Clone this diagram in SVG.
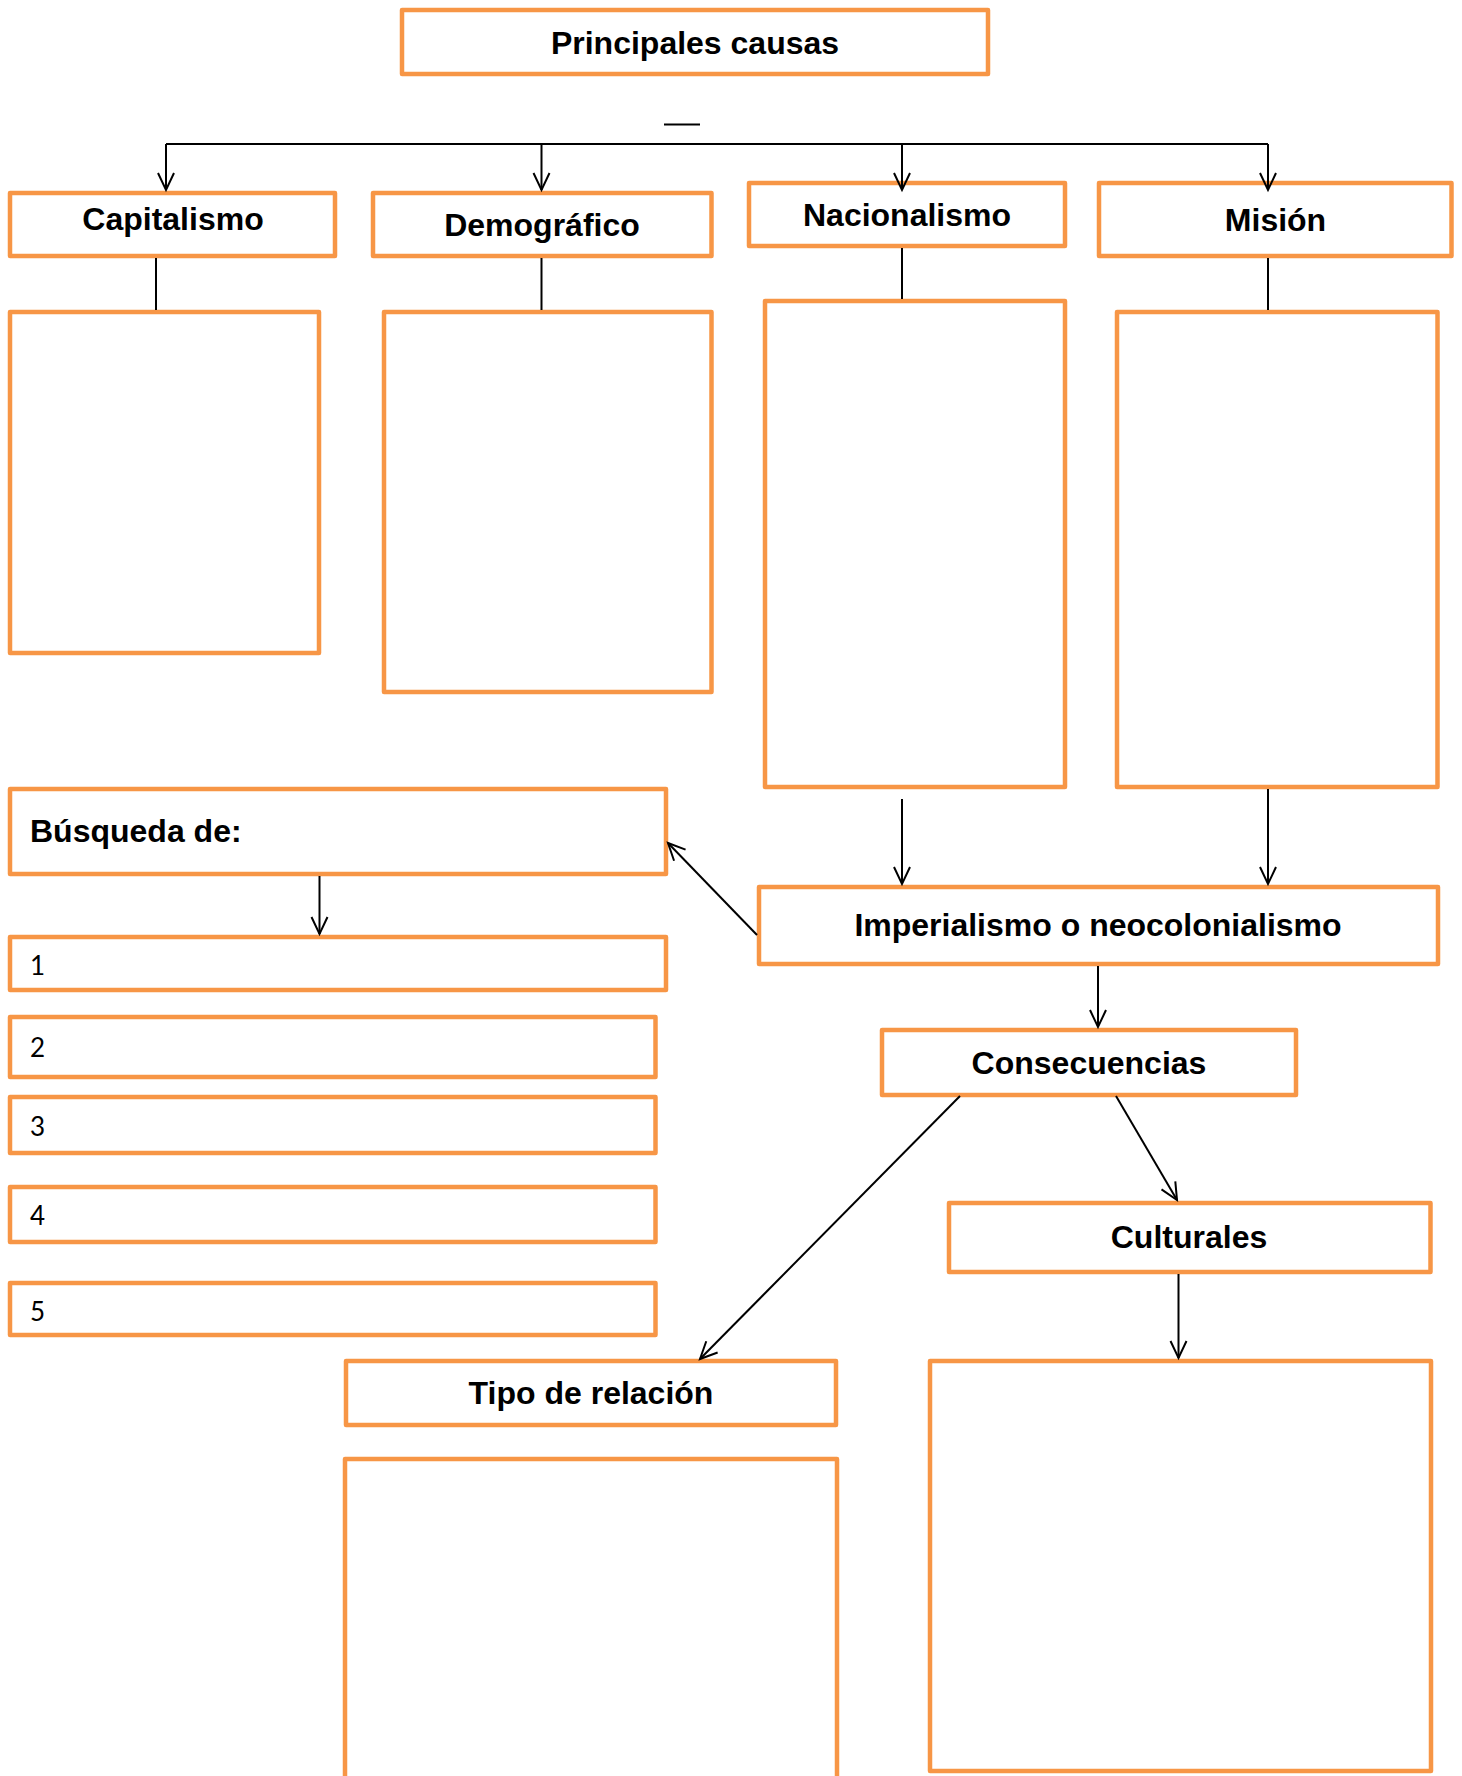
<svg xmlns="http://www.w3.org/2000/svg" width="1462" height="1776" viewBox="0 0 1462 1776">
<style>
.box{fill:#fff;stroke:#F79646;stroke-width:4.5;stroke-linejoin:round}
.lbl{font-family:"Liberation Sans",Arial,sans-serif;font-weight:bold;font-size:32px;fill:#000;text-anchor:middle}
.lbl-l{font-family:"Liberation Sans",Arial,sans-serif;font-weight:bold;font-size:32px;fill:#000}
.num{font-family:Lato,"Liberation Sans",sans-serif;font-size:26px;fill:#000}
.con{fill:none;stroke:#000;stroke-width:2}
</style>
<defs>
<marker id="arr" markerUnits="userSpaceOnUse" markerWidth="24" markerHeight="24" viewBox="-20 -12 24 24" refX="0" refY="0" orient="auto">
<path d="M-17,-8 L0,0 L-17,8" fill="none" stroke="#000" stroke-width="2"/>
</marker>
</defs>
<rect width="1462" height="1776" fill="#fff"/>
<g id="principales"><rect class="box" x="402" y="10" width="586" height="64"/><text class="lbl" x="695" y="54">Principales causas</text></g>
<g id="capitalismo"><rect class="box" x="10" y="193" width="325" height="63"/><text class="lbl" x="173" y="230">Capitalismo</text></g>
<g id="demografico"><rect class="box" x="373" y="193" width="338.5" height="63"/><text class="lbl" x="542" y="236">Demográfico</text></g>
<g id="nacionalismo"><rect class="box" x="749" y="183" width="316" height="63"/><text class="lbl" x="907" y="226">Nacionalismo</text></g>
<g id="mision"><rect class="box" x="1099" y="183" width="352.5" height="73"/><text class="lbl" x="1275.5" y="231">Misión</text></g>
<g id="capitalismo-contenido"><rect class="box" x="10" y="312" width="309" height="341"/></g>
<g id="demografico-contenido"><rect class="box" x="384" y="312" width="327.5" height="380"/></g>
<g id="nacionalismo-contenido"><rect class="box" x="765" y="301" width="300" height="486"/></g>
<g id="mision-contenido"><rect class="box" x="1117" y="312" width="320.5" height="475"/></g>
<g id="busqueda"><rect class="box" x="10" y="789" width="656" height="85"/><text class="lbl-l" x="30" y="842">Búsqueda de:</text></g>
<g id="item1"><rect class="box" x="10" y="937" width="656" height="53"/><text class="num" x="30" y="975">1</text></g>
<g id="item2"><rect class="box" x="10" y="1017" width="645.5" height="60"/><text class="num" x="30" y="1057">2</text></g>
<g id="item3"><rect class="box" x="10" y="1097" width="645.5" height="56"/><text class="num" x="30" y="1136">3</text></g>
<g id="item4"><rect class="box" x="10" y="1187" width="645.5" height="55"/><text class="num" x="30" y="1225">4</text></g>
<g id="item5"><rect class="box" x="10" y="1283" width="645.5" height="52"/><text class="num" x="30" y="1321">5</text></g>
<g id="imperialismo"><rect class="box" x="759" y="887" width="679" height="77"/><text class="lbl" x="1098" y="936">Imperialismo o neocolonialismo</text></g>
<g id="consecuencias"><rect class="box" x="882" y="1030" width="414" height="65"/><text class="lbl" x="1089" y="1074">Consecuencias</text></g>
<g id="culturales"><rect class="box" x="949" y="1203" width="481.5" height="69"/><text class="lbl" x="1189" y="1248">Culturales</text></g>
<g id="tipo-relacion"><rect class="box" x="346" y="1361" width="490" height="64"/><text class="lbl" x="591" y="1404">Tipo de relación</text></g>
<g id="tipo-contenido"><rect class="box" x="345" y="1459" width="492" height="400"/></g>
<g id="culturales-contenido"><rect class="box" x="930" y="1361" width="501" height="410"/></g>
<g id="connectors">
<line class="con" x1="664" y1="124.5" x2="700" y2="124.5" stroke-width="2.5"/>
<path class="con" d="M166,144 H1268"/>
<path class="con" d="M166,144 V190" marker-end="url(#arr)"/>
<path class="con" d="M541.5,144 V190" marker-end="url(#arr)"/>
<path class="con" d="M902,144 V190" marker-end="url(#arr)"/>
<path class="con" d="M1268,144 V190" marker-end="url(#arr)"/>
<path class="con" d="M156,258 V310"/>
<path class="con" d="M541.5,258 V310"/>
<path class="con" d="M902,248 V299"/>
<path class="con" d="M1268,258 V310"/>
<path class="con" d="M902,799 V884" marker-end="url(#arr)"/>
<path class="con" d="M1268,789 V884" marker-end="url(#arr)"/>
<path class="con" d="M757,935 L668,843" marker-end="url(#arr)"/>
<path class="con" d="M319.5,876 V934" marker-end="url(#arr)"/>
<path class="con" d="M1098,966 V1027" marker-end="url(#arr)"/>
<path class="con" d="M960,1096 L700,1359" marker-end="url(#arr)"/>
<path class="con" d="M1116,1096 L1177,1200" marker-end="url(#arr)"/>
<path class="con" d="M1178.5,1274 V1358" marker-end="url(#arr)"/>
</g>
</svg>
